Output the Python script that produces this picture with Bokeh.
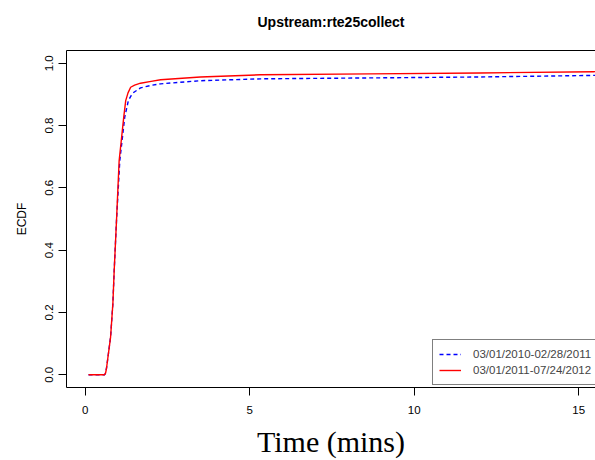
from bokeh.plotting import figure
from bokeh.models import Legend, LegendItem, FixedTicker, LinearAxis, Range1d
from bokeh.embed import file_html
from bokeh.resources import INLINE

title_text = "Upstream:rte25collect"
x_label = "Time (mins)"
y_label = "ECDF"
series_names = ["03/01/2010-02/28/2011", "03/01/2011-07/24/2012"]

x_ticks = [0, 5, 10, 15]
x_tick_labels = ["0", "5", "10", "15"]
y_ticks = [0.0, 0.2, 0.4, 0.6, 0.8, 1.0]
y_tick_labels = ["0.0", "0.2", "0.4", "0.6", "0.8", "1.0"]

# series 1 (blue dashed)
x_blue = [0.10, 0.59, 0.62, 0.65, 0.77, 0.84, 0.88, 0.95, 1.05, 1.20, 1.31, 1.40,
          1.48, 1.68, 2.00, 2.29, 3.50, 5.33, 8.67, 12.0, 15.45, 17.1]
y_blue = [0.0, 0.0, 0.006, 0.024, 0.121, 0.229, 0.335, 0.495, 0.687, 0.827, 0.880, 0.897,
          0.907, 0.921, 0.929, 0.934, 0.944, 0.950, 0.953, 0.956, 0.961, 0.962]
# series 2 (red solid)
x_red = [0.10, 0.59, 0.62, 0.65, 0.77, 0.84, 0.88, 0.95, 1.03, 1.17, 1.23, 1.30,
         1.38, 1.50, 1.68, 2.00, 2.29, 3.50, 5.33, 8.67, 12.0, 15.45, 17.1]
y_red = [0.0, 0.0, 0.006, 0.024, 0.121, 0.229, 0.335, 0.495, 0.687, 0.827, 0.880, 0.905,
         0.923, 0.930, 0.936, 0.942, 0.947, 0.956, 0.963, 0.966, 0.969, 0.973, 0.974]

SANS = "Liberation Sans"
SERIF = "Liberation Serif"

p = figure(width=595, height=460, output_backend="svg", toolbar_location=None,
           x_range=Range1d(-0.57, 15.51), y_range=Range1d(-0.041, 1.041),
           min_border_left=66, min_border_right=0, min_border_top=50, min_border_bottom=73,
           x_axis_label=x_label, y_axis_label=y_label)

p.background_fill_color = "white"
p.border_fill_color = "white"
p.outline_line_color = None
p.xgrid.visible = False
p.ygrid.visible = False
p.title.visible = False

for ax in (p.xaxis[0], p.yaxis[0]):
    ax.axis_line_color = "black"
    ax.axis_line_width = 1
    ax.major_tick_line_color = "black"
    ax.major_tick_out = 8
    ax.major_tick_in = 0
    ax.minor_tick_line_color = None
    ax.major_label_text_font = SANS
    ax.major_label_text_font_size = "11.5px"
    ax.major_label_text_color = "black"
    ax.axis_label_text_font_style = "normal"
    ax.axis_label_text_color = "black"

p.xaxis[0].ticker = FixedTicker(ticks=x_ticks)
p.xaxis[0].major_label_overrides = dict(zip(x_ticks, x_tick_labels))
p.xaxis[0].major_label_standoff = 10
p.xaxis[0].axis_label_text_font = SERIF
p.xaxis[0].axis_label_text_font_size = "30px"
p.xaxis[0].axis_label_standoff = 8

p.yaxis[0].ticker = FixedTicker(ticks=y_ticks)
p.yaxis[0].major_label_overrides = dict(zip(y_ticks, y_tick_labels))
p.yaxis[0].major_label_orientation = "vertical"
p.yaxis[0].major_label_standoff = 5
p.yaxis[0].axis_label_text_font = SANS
p.yaxis[0].axis_label_text_font_size = "12px"
p.yaxis[0].axis_label_standoff = 14

# top border of the box, carrying the chart title
top_axis = LinearAxis(ticker=FixedTicker(ticks=[]), major_tick_out=0, major_tick_in=0,
                      minor_tick_out=0, minor_tick_in=0, axis_line_color="black",
                      major_tick_line_color=None, minor_tick_line_color=None,
                      axis_label=title_text, axis_label_text_font=SANS,
                      axis_label_text_font_size="14px", axis_label_text_font_style="bold",
                      axis_label_text_color="black", axis_label_standoff=21)
p.add_layout(top_axis, "above")

r_blue = p.line(x_blue, y_blue, line_color="#0000ff", line_width=1.4, line_dash="4 3")
r_red = p.line(x_red, y_red, line_color="#ff0000", line_width=1.4)

legend = Legend(items=[LegendItem(label=series_names[0], renderers=[r_blue]),
                       LegendItem(label=series_names[1], renderers=[r_red])],
                location=(366, 2), orientation="vertical",
                label_text_font=SANS, label_text_font_size="11.5px",
                label_height=16, glyph_height=16, glyph_width=22, label_standoff=12,
                spacing=0, padding=6, margin=0,
                border_line_color="black", border_line_width=1,
                background_fill_color="white", background_fill_alpha=1.0)
p.add_layout(legend, "center")

open("out.html", "w").write(file_html(p, INLINE))
